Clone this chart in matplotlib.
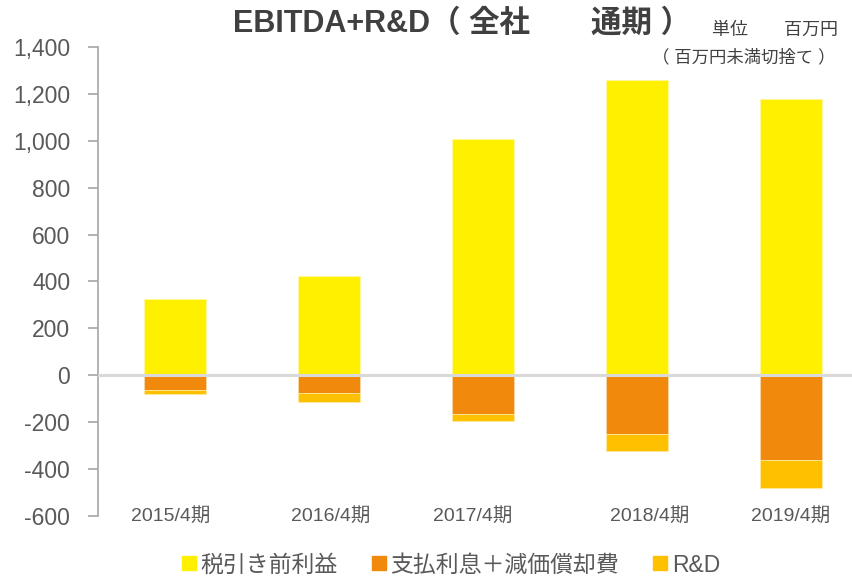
import matplotlib
matplotlib.use("Agg")
import matplotlib.pyplot as plt
from matplotlib.lines import Line2D
import numpy as np

categories = ["2015/4期", "2016/4期", "2017/4期", "2018/4期", "2019/4期"]
pretax_profit = [325, 424, 1006, 1259, 1178]
interest_depr = [-62, -74, -167, -250, -360]
rnd = [-17, -41, -26, -71, -121]
yticks = [-600, -400, -200, 0, 200, 400, 600, 800, 1000, 1200, 1400]
legend_labels = ["税引き前利益", "支払利息＋減価償却費", "R&D"]

C_YEL = "#FFF000"
C_ORG = "#F0890C"
C_RND = "#FFC000"
TXT = "#595959"
FAM = ["Liberation Sans", "Noto Sans CJK JP", "DejaVu Sans"]
plt.rcParams["font.family"] = FAM

fig = plt.figure(figsize=(8.52, 5.82), dpi=100)
W, H = 852, 582
ax_left, ax_right = 98, 868
ax_top, ax_bot = 47, 516
ax = fig.add_axes([ax_left / W, 1 - ax_bot / H, (ax_right - ax_left) / W, (ax_bot - ax_top) / H])

x = np.arange(len(categories))
bw = 0.40
ax.bar(x, pretax_profit, bw, color=C_YEL, edgecolor="#FFF7A0", linewidth=0.6, zorder=2)
ax.bar(x, interest_depr, bw, color=C_ORG, edgecolor="#FAD7A8", linewidth=0.6, zorder=2)
ax.bar(x, rnd, bw, bottom=interest_depr, color=C_RND, edgecolor="#FFE9A0", linewidth=0.6, zorder=2)

ax.axhline(0, color="#D9D9D9", lw=2.2, zorder=3)
ax.set_xlim(-0.5, len(categories) - 0.5)
ax.set_ylim(-600, 1400)
ax.set_yticks(yticks)
ax.set_yticklabels([f"{v:,}" for v in yticks], fontsize=16.5, color=TXT)
ax.tick_params(axis="y", direction="out", length=7, width=1.2, color="#A6A6A6", pad=13)
ax.tick_params(axis="x", bottom=False, labelbottom=False)
for s in ["top", "right", "bottom"]:
    ax.spines[s].set_visible(False)
ax.spines["left"].set_color("#A6A6A6")
ax.spines["left"].set_linewidth(1.2)

# category labels (text boxes, slightly offset as in reference)
label_off = [-0.03, 0.01, -0.07, 0.08, 0.0]
for i, (c, o) in enumerate(zip(categories, label_off)):
    ax.text(i + o, -600, c, ha="center", va="center", fontsize=14, color=TXT)

fig.text(233 / W, 1 - 24 / H, "EBITDA+R&D（ 全社　　通期 ）", ha="left", va="center",
         fontsize=22, fontweight="bold", color="#404040")
fig.text(838 / W, 1 - 30 / H, "単位　　百万円", ha="right", va="center", fontsize=13, color="#404040")
fig.text(836 / W, 1 - 57 / H, "（ 百万円未満切捨て ）", ha="right", va="center", fontsize=12.5, color="#404040")

handles = [Line2D([], [], marker="s", linestyle="none", markersize=9.5, color=c)
           for c in (C_YEL, C_ORG, C_RND)]
fig.legend(handles, legend_labels, loc="center", bbox_to_anchor=(450 / W, 1 - 565 / H), ncol=3,
           frameon=False, fontsize=16.5, handletextpad=0.1, columnspacing=1.4, labelcolor=TXT,
           handlelength=0.8)

fig.savefig("out.png", dpi=100)
